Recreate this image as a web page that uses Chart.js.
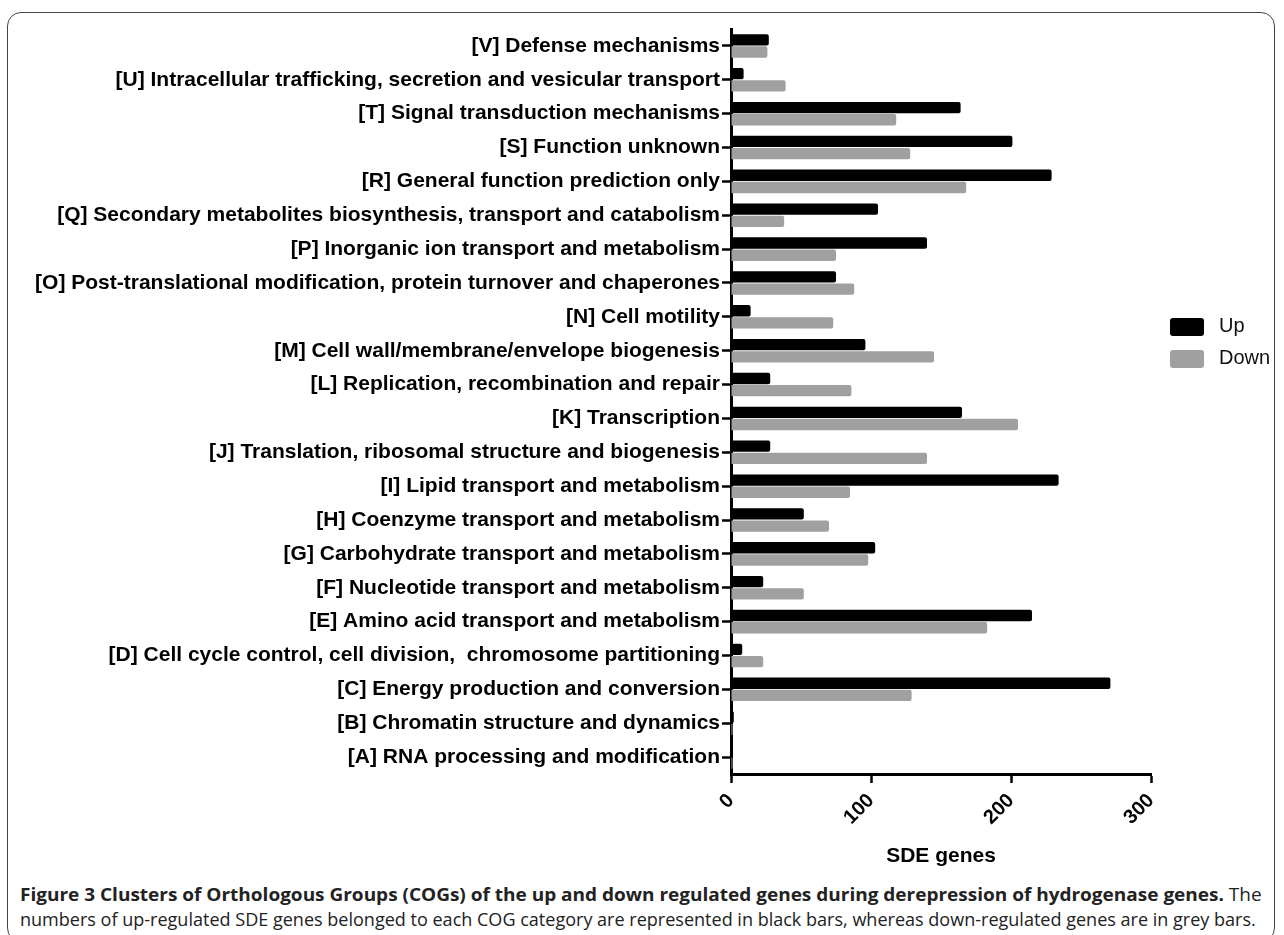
<!DOCTYPE html>
<html>
<head>
<meta charset="utf-8">
<script src="https://cdn.jsdelivr.net/npm/chart.js@4"></script>
<style>
  body { margin: 0; background: #fff; }
  #fig { position: relative; width: 1284px; height: 935px; }
  #frame {
    position: absolute; left: 7px; top: 12px; width: 1268px; height: 930px;
    border: 1.5px solid #444; border-radius: 14px; box-sizing: border-box;
  }
  #grafico { position: absolute; left: 0; top: 0; }
  .leg { position: absolute; font: 20px "Liberation Sans", Arial, sans-serif; color: #111; }
  .caixa { position: absolute; width: 34px; height: 18px; border-radius: 3px; }
  .linha { position: absolute; left: 20px; white-space: nowrap; transform-origin: 0 50%;
    font: 18px "Open Sans", sans-serif; color: #222; }
</style>
</head>
<body>
<div id="fig">
  <div id="frame"></div>
  <canvas id="grafico" width="1284" height="880"></canvas>
  <div class="caixa" style="left:1170px;top:318px;background:#000"></div>
  <div class="leg" style="left:1219px;top:314px">Up</div>
  <div class="caixa" style="left:1170px;top:350px;background:#a0a0a0"></div>
  <div class="leg" style="left:1219px;top:346px">Down</div>
  <div class="linha" id="cap1" style="top:882px"><b>Figure 3 Clusters of Orthologous Groups (COGs) of the up and down regulated genes during derepression of hydrogenase genes.</b> The</div>
  <div class="linha" id="cap2" style="top:907px">numbers of up-regulated SDE genes belonged to each COG category are represented in black bars, whereas down-regulated genes are in grey bars.</div>
</div>
<script>
let categorias = [
  "[V] Defense mechanisms",
  "[U] Intracellular trafficking, secretion and vesicular transport",
  "[T] Signal transduction mechanisms",
  "[S] Function unknown",
  "[R] General function prediction only",
  "[Q] Secondary metabolites biosynthesis, transport and catabolism",
  "[P] Inorganic ion transport and metabolism",
  "[O] Post-translational modification, protein turnover and chaperones",
  "[N] Cell motility",
  "[M] Cell wall/membrane/envelope biogenesis",
  "[L] Replication, recombination and repair",
  "[K] Transcription",
  "[J] Translation, ribosomal structure and biogenesis",
  "[I] Lipid transport and metabolism",
  "[H] Coenzyme transport and metabolism",
  "[G] Carbohydrate transport and metabolism",
  "[F] Nucleotide transport and metabolism",
  "[E] Amino acid transport and metabolism",
  "[D] Cell cycle control, cell division,  chromosome partitioning",
  "[C] Energy production and conversion",
  "[B] Chromatin structure and dynamics",
  "[A] RNA processing and modification"
];
let up = [27, 9, 164, 201, 229, 105, 140, 75, 14, 96, 28, 165, 28, 234, 52, 103, 23, 215, 8, 271, 2, 1];
let down = [26, 39, 118, 128, 168, 38, 75, 88, 73, 145, 86, 205, 140, 85, 70, 98, 52, 183, 23, 129, 1, 1];
let xTicks = [0, 100, 200, 300];

// legenda da figura: ajusta a largura das duas linhas como no original
[["cap1", 1242], ["cap2", 1236]].forEach(([id, w]) => {
  let el = document.getElementById(id);
  el.style.transform = "scaleX(" + (w / el.offsetWidth) + ")";
});

const familia = "'Liberation Sans', Arial, sans-serif";

new Chart(document.getElementById("grafico"), {
  type: "bar",
  data: {
    labels: categorias,
    datasets: [
      { label: "Up", data: up, backgroundColor: "#000000", borderRadius: 2, borderSkipped: "start",
        categoryPercentage: 0.72, barPercentage: 0.93 },
      { label: "Down", data: down, backgroundColor: "#a0a0a0", borderRadius: 2, borderSkipped: "start",
        categoryPercentage: 0.72, barPercentage: 0.93 }
    ]
  },
  options: {
    indexAxis: "y",
    responsive: false,
    animation: false,
    layout: { padding: { left: 0, top: 29, right: 133, bottom: 0 } },
    plugins: { legend: { display: false }, tooltip: { enabled: false } },
    scales: {
      x: {
        min: 0, max: 300,
        afterBuildTicks: s => { s.ticks = xTicks.map(v => ({ value: v })); },
        afterFit: s => { s.height = 106; },
        border: { color: "#000", width: 3 },
        grid: { drawOnChartArea: false, drawTicks: true, tickLength: 9, tickWidth: 2.5, tickColor: "#000" },
        ticks: { color: "#000", font: { family: familia, size: 20, weight: "bold" },
          minRotation: 45, maxRotation: 45, padding: 6 },
        title: { display: true, text: "SDE genes", color: "#000",
          font: { family: familia, size: 21, weight: "bold" },
          padding: { top: 0, bottom: 11 } }
      },
      y: {
        afterFit: s => { s.width = 731; },
        border: { color: "#000", width: 3 },
        grid: { offset: false, drawOnChartArea: false, drawTicks: true, tickLength: 9, tickWidth: 2.5, tickColor: "#000" },
        ticks: { color: "#000", font: { family: familia, size: 21, weight: "bold" }, padding: 2, autoSkip: false }
      }
    }
  }
});
</script>
</body>
</html>
